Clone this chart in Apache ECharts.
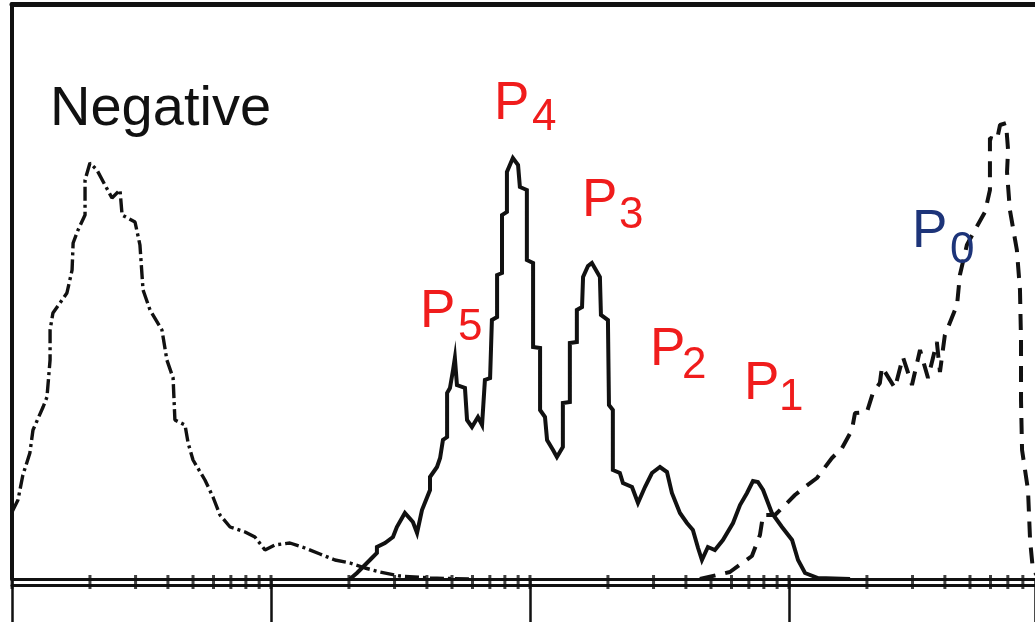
<!DOCTYPE html>
<html>
<head>
<meta charset="utf-8">
<script src="https://cdn.jsdelivr.net/npm/echarts@6/dist/echarts.min.js"></script>
<style>
  html, body { margin: 0; padding: 0; background: #ffffff; }
  #chart { width: 1035px; height: 626px; }
</style>
</head>
<body>
<div id="chart"></div>
<script>
// Fluorescence histograms: x = log10 intensity (decades), y = events per channel.

// Unstained control ("Negative"), dash-dot trace
const negLog = [0.000, 0.023, 0.042, 0.069, 0.081, 0.120, 0.135, 0.147, 0.147, 0.158,
                0.185, 0.212, 0.232, 0.236, 0.255, 0.282, 0.282, 0.301, 0.328, 0.359,
                0.386, 0.417, 0.425, 0.475, 0.494, 0.506, 0.533, 0.579, 0.598, 0.622,
                0.629, 0.668, 0.680, 0.699, 0.745, 0.776, 0.803, 0.842, 0.900, 0.938,
                0.977, 1.015, 1.073, 1.131, 1.189, 1.247, 1.305, 1.363, 1.421, 1.498,
                1.614, 1.768];
const negCount = [67, 79, 104, 126, 149, 172, 182, 219, 249, 266,
                  276, 286, 309, 336, 349, 364, 399, 416, 409, 394,
                  381, 389, 364, 357, 334, 289, 269, 249, 219, 201,
                  159, 154, 136, 119, 99, 82, 64, 52, 47, 42,
                  29, 34, 36, 31, 25, 19, 16, 11, 7, 3,
                  1, 0];

// Divided population with generation peaks P5..P1, solid trace
const divLog = [1.305, 1.332, 1.382, 1.409, 1.409, 1.440, 1.471, 1.486, 1.517, 1.548,
                1.564, 1.583, 1.614, 1.614, 1.641, 1.653, 1.664, 1.680, 1.680, 1.691,
                1.703, 1.710, 1.718, 1.749, 1.757, 1.776, 1.799, 1.815, 1.826, 1.846,
                1.853, 1.873, 1.873, 1.892, 1.892, 1.911, 1.911, 1.934, 1.954, 1.961,
                1.988, 1.988, 2.012, 2.012, 2.039, 2.039, 2.058, 2.066, 2.089, 2.104,
                2.127, 2.127, 2.154, 2.154, 2.181, 2.181, 2.201, 2.205, 2.224, 2.239,
                2.259, 2.270, 2.274, 2.301, 2.305, 2.320, 2.320, 2.347, 2.359, 2.394,
                2.417, 2.444, 2.471, 2.502, 2.529, 2.548, 2.579, 2.606, 2.629, 2.649,
                2.664, 2.687, 2.714, 2.745, 2.784, 2.811, 2.838, 2.861, 2.880, 2.900,
                2.934, 2.973, 3.012, 3.035, 3.062, 3.112, 3.236];
const divCount = [0, 6, 19, 26, 32, 36, 42, 52, 66, 57,
                  46, 69, 89, 102, 112, 121, 139, 142, 186, 191,
                  209, 221, 194, 191, 159, 152, 162, 154, 199, 201,
                  259, 262, 304, 306, 364, 367, 407, 421, 414, 392,
                  389, 319, 316, 232, 231, 169, 162, 139, 129, 122,
                  132, 176, 177, 236, 237, 269, 272, 302, 313, 316,
                  307, 302, 264, 259, 174, 169, 109, 106, 96, 92,
                  76, 92, 106, 112, 107, 86, 66, 56, 49, 31,
                  19, 32, 29, 39, 56, 74, 86, 98, 97, 89,
                  66, 52, 39, 19, 6, 1, 0];

// Undivided population (P0), dashed trace
const undivLog = [2.656, 2.772, 2.857, 2.888, 2.900, 2.946, 2.985, 3.023, 3.062, 3.108,
                  3.166, 3.205, 3.243, 3.255, 3.301, 3.324, 3.351, 3.359, 3.409, 3.440,
                  3.475, 3.506, 3.537, 3.571, 3.583, 3.602, 3.649, 3.660, 3.687, 3.718,
                  3.757, 3.776, 3.776, 3.803, 3.815, 3.838, 3.846, 3.842, 3.853, 3.880,
                  3.892, 3.896, 3.896, 3.900, 3.923, 3.931, 3.942, 3.969];
const undivCount = [0, 7, 23, 44, 64, 64, 74, 84, 92, 101,
                    121, 131, 149, 166, 167, 186, 196, 212, 191, 222,
                    194, 229, 201, 237, 207, 244, 274, 304, 334, 349,
                    367, 389, 441, 439, 454, 456, 429, 407, 369, 329,
                    289, 239, 179, 129, 89, 39, 9, 0];

// Axis decades and the per-decade minor tick factors (1 = major)
const decades = [0, 1, 2, 3];
const tickFactors = [1, 2, 3, 4, 5, 6, 7, 8, 9];

// Peak names: main letter + subscript
const peakSubs = ['4', '3', '5', '2', '1', '0'];

const X_MAX = 3.95;
const Y_MAX = 575;
const FONT = '"Liberation Sans", Arial, Helvetica, sans-serif';
const INK = '#111111';
const RED = '#f01c1c';
const NAVY = '#1d3479';

const zip = (xs, ys) => xs.map((x, i) => [x, ys[i]]);

const tickMarks = [];
decades.forEach(d => tickFactors.forEach(f => {
  const v = d + Math.log10(f);
  if (v <= X_MAX) tickMarks.push([v, 0]);
}));

// Label placement (pixels): main letter and subscript anchors
const labelPlace = [
  { px: 494, py: 104, sx: 532, sy: 118, color: RED },
  { px: 582, py: 201, sx: 619, sy: 216, color: RED },
  { px: 420, py: 312, sx: 458, sy: 328, color: RED },
  { px: 650, py: 350, sx: 682, sy: 366, color: RED },
  { px: 744, py: 384, sx: 779, sy: 398, color: RED },
  { px: 912, py: 232, sx: 950, sy: 251, color: NAVY }
];

const graphics = [{
  type: 'text', x: 50, y: 110, z: 100,
  style: { text: 'Negative', font: '56px ' + FONT, fill: INK, align: 'left', verticalAlign: 'middle' }
}];
peakSubs.forEach((s, i) => {
  const L = labelPlace[i];
  graphics.push({
    type: 'text', x: L.px, y: L.py, z: 100,
    style: { text: 'P', font: '53px ' + FONT, fill: L.color, align: 'left', verticalAlign: 'middle' }
  });
  graphics.push({
    type: 'text', x: L.sx, y: L.sy, z: 100,
    style: { text: s, font: '44px ' + FONT, fill: L.color, align: 'left', verticalAlign: 'middle' }
  });
});

const hiddenAxisBits = {
  axisLabel: { show: false },
  splitLine: { show: false }
};

const chart = echarts.init(document.getElementById('chart'), null, { renderer: 'canvas' });
chart.setOption({
  animation: false,
  backgroundColor: '#ffffff',
  grid: { left: 12, right: 0, top: 4, bottom: 47, containLabel: false },
  xAxis: [
    Object.assign({
      type: 'value', min: 0, max: X_MAX, interval: 1, position: 'bottom',
      axisLine: { show: true, onZero: false, lineStyle: { color: INK, width: 3 } },
      axisTick: { show: true, inside: false, length: 43, lineStyle: { color: INK, width: 2.5 } }
    }, hiddenAxisBits),
    Object.assign({
      type: 'value', min: 0, max: X_MAX, position: 'top',
      axisLine: { show: true, onZero: false, lineStyle: { color: INK, width: 5 } },
      axisTick: { show: false }
    }, hiddenAxisBits),
    Object.assign({
      type: 'value', min: 0, max: X_MAX, position: 'bottom', offset: 6,
      axisLine: { show: true, onZero: false, lineStyle: { color: INK, width: 3 } },
      axisTick: { show: false }
    }, hiddenAxisBits)
  ],
  yAxis: Object.assign({
    type: 'value', min: 0, max: Y_MAX,
    axisLine: { show: true, onZero: false, lineStyle: { color: INK, width: 4 } },
    axisTick: { show: false }
  }, hiddenAxisBits),
  series: [
    {
      name: 'Negative', type: 'line', xAxisIndex: 0, data: zip(negLog, negCount),
      symbol: 'none', clip: true, z: 3,
      lineStyle: { color: INK, width: 3.4, type: [14, 4, 3, 4] }
    },
    {
      name: 'Divided', type: 'line', xAxisIndex: 0, data: zip(divLog, divCount),
      symbol: 'none', clip: true, z: 4,
      lineStyle: { color: INK, width: 4, type: 'solid', join: 'miter' }
    },
    {
      name: 'P0', type: 'line', xAxisIndex: 0, data: zip(undivLog, undivCount),
      symbol: 'none', clip: true, z: 3,
      lineStyle: { color: INK, width: 4, type: [16, 10] }
    },
    {
      name: 'ticks', type: 'scatter', xAxisIndex: 0, data: tickMarks,
      symbol: 'rect', symbolSize: [3, 14], symbolOffset: [0, 3],
      itemStyle: { color: INK }, clip: false, silent: true, z: 6
    }
  ],
  graphic: graphics
});
</script>
</body>
</html>
